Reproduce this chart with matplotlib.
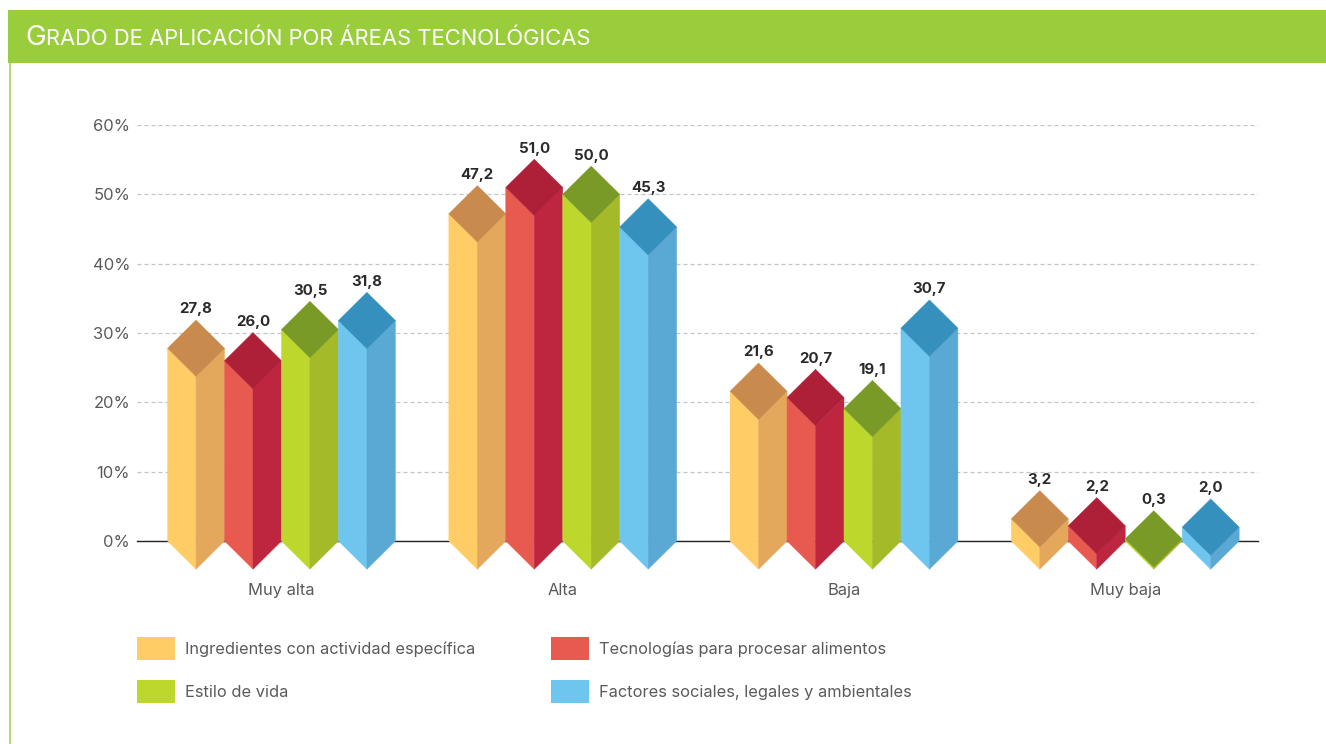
import matplotlib
matplotlib.use("Agg")
import matplotlib.pyplot as plt
from matplotlib.patches import Polygon, Patch, Rectangle

categories = ["Muy alta", "Alta", "Baja", "Muy baja"]
series_names = ["Ingredientes con actividad específica", "Tecnologías para procesar alimentos",
                "Estilo de vida", "Factores sociales, legales y ambientales"]
ingredientes = [27.8, 47.2, 21.6, 3.2]
tecnologias = [26.0, 51.0, 20.7, 2.2]
estilo = [30.5, 50.0, 19.1, 0.3]
factores = [31.8, 45.3, 30.7, 2.0]
yticks = [0, 10, 20, 30, 40, 50, 60]
front_colors = ["#FFCC66", "#E8594F", "#BDD72D", "#6EC6EF"]
side_colors = ["#E3A85C", "#BE263F", "#A4BA28", "#5AA8D4"]
top_colors = ["#C98A4E", "#AE1F38", "#7A9A28", "#3690BD"]
title = "Grado de aplicación por áreas tecnológicas"

plt.rcParams["font.family"] = ["Inter", "DejaVu Sans"]
W, H = 1326, 744
fig = plt.figure(figsize=(W / 100, H / 100), dpi=100, facecolor="white")

def px(x0, y0, x1, y1):
    return [x0 / W, 1 - y1 / H, (x1 - x0) / W, (y1 - y0) / H]

# header band and left rule
fig.add_artist(Rectangle((8 / W, 1 - 63 / H), (W - 8) / W, 53 / H, transform=fig.transFigure, color="#9ACD3C", lw=0))
fig.add_artist(Rectangle((9 / W, 0), 2 / W, 1 - 63 / H, transform=fig.transFigure, color="#B5D96E", lw=0))

ax = fig.add_axes(px(137, 125, 1258, 541))
ax.set_facecolor("none")
ax.set_xlim(-0.5137, 3.472)
ax.set_ylim(0, 60)
for s in ax.spines.values():
    s.set_visible(False)
ax.spines["bottom"].set_visible(True)
ax.spines["bottom"].set_color("#222222")
ax.spines["bottom"].set_linewidth(1.0)
ax.set_axisbelow(True)
ax.set_yticks(yticks)
ax.set_yticklabels([f"{v}%" for v in yticks], fontsize=11.9, color="#5A5A5A")
ax.set_xticks(range(len(categories)))
ax.set_xticklabels(categories, fontsize=11.9, color="#5A5A5A")
ax.tick_params(axis="both", length=0)
ax.tick_params(axis="y", pad=5)
ax.tick_params(axis="x", pad=30.5)
ax.grid(axis="y", color="#C4C4C4", lw=0.9, ls=(0, (3.2, 2.4)))
ax.spines["bottom"].set_zorder(1)

bar_w = 0.2025
depth = 28.2 / (416 / 60)
all_series = [ingredientes, tecnologias, estilo, factores]
for j, vals in enumerate(all_series):
    for i, v in enumerate(vals):
        x0 = i + (j - 2) * bar_w
        xc = x0 + bar_w / 2
        x1 = x0 + bar_w
        kw = dict(clip_on=False, zorder=3, lw=0.3)
        ax.add_patch(Polygon([(x0, 0), (xc, -depth), (xc, v - depth), (x0, v)],
                             fc=front_colors[j], ec=front_colors[j], **kw))
        ax.add_patch(Polygon([(xc, -depth), (x1, 0), (x1, v), (xc, v - depth)],
                             fc=side_colors[j], ec=side_colors[j], **kw))
        ax.add_patch(Polygon([(x0, v), (xc, v + depth), (x1, v), (xc, v - depth)],
                             fc=top_colors[j], ec=top_colors[j], **kw))
        ax.annotate(f"{v:.1f}".replace(".", ","), (xc, v + depth), xytext=(0, 2.6),
                    textcoords="offset points", ha="center", va="bottom",
                    fontsize=10.8, fontweight="bold", color="#2A2A2A", zorder=4)

# legend fills column by column; this order reads row by row as in the source
order = [0, 2, 1, 3]
handles = [Patch(fc=front_colors[k], ec="none") for k in order]
labels = [series_names[k] for k in order]
leg = fig.legend(handles, labels, ncol=2, loc="upper left",
                 bbox_to_anchor=(137 / W, 1 - 637 / H), bbox_transform=fig.transFigure,
                 frameon=False, fontsize=11.8, labelcolor="#5A5A5A", borderaxespad=0, borderpad=0,
                 handlelength=2.32, handleheight=1.78, handletextpad=0.61,
                 labelspacing=1.22, columnspacing=4.63)

# small-caps title: enlarged initial followed by reduced capitals
fig.canvas.draw()
r = fig.canvas.get_renderer()
t0 = fig.text(25 / W, 1 - 45 / H, title[0].upper(), fontsize=20, color="white", va="baseline")
bb = t0.get_window_extent(r)
fig.text((bb.x1 + 0.5) / W, 1 - 45 / H, title[1:].upper(), fontsize=15.85, color="white", va="baseline")

fig.savefig("out.png", dpi=100, facecolor="white")
